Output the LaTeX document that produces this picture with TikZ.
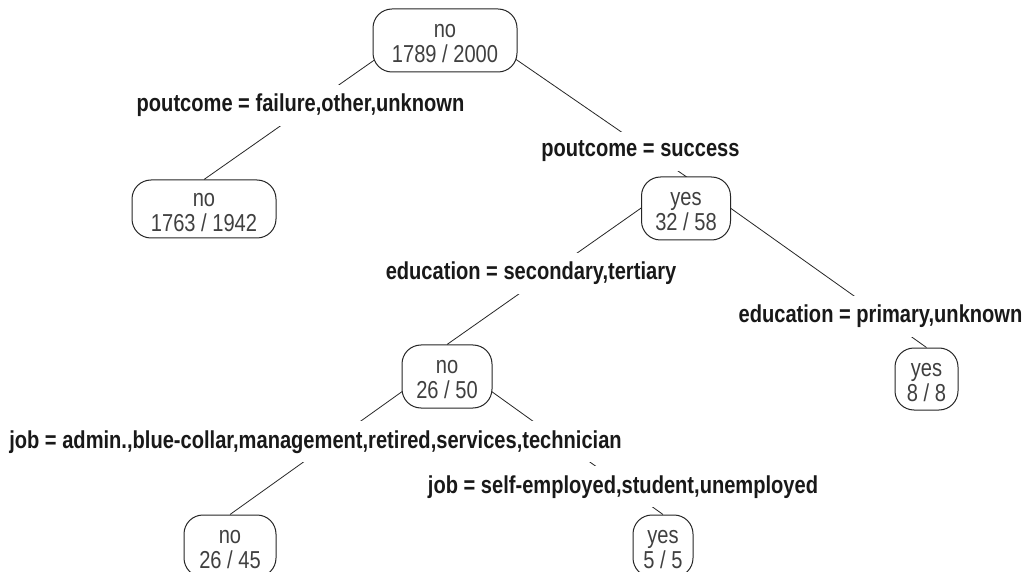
\documentclass[tikz,border=0pt]{standalone}
\usepackage{fontspec}
\setmainfont{Liberation Sans}
\usepackage{graphicx}
\usetikzlibrary{backgrounds}
\newcommand{\sq}[1]{\scalebox{0.82}[1]{#1}}
\newcommand{\nt}[2]{\rule{0pt}{20pt}\sq{#1}\\\sq{#2}}
\begin{document}
\begin{tikzpicture}[x=1pt,y=-1pt,
  box/.style={draw=black!85, line width=1pt, rounded corners=19pt, fill=white, align=center,
    text=black!75, font=\fontsize{24.5}{25}\selectfont, inner sep=0pt},
  lab/.style={fill=white, inner xsep=3pt, inner ysep=9pt, anchor=base, text=black!90,
    font=\fontsize{24.5}{25}\selectfont\bfseries},
  edge/.style={draw=black!85, line width=0.8pt}]
\useasboundingbox (0,0) rectangle (1029,572);
\clip (0,0) rectangle (1029,572);
% tree nodes
\node[box, minimum width=144pt, minimum height=63pt] (root) at (445,40.5) {\nt{no}{1789 / 2000}};
\node[box, minimum width=144pt, minimum height=58pt] (c1) at (204,209) {\nt{no}{1763 / 1942}};
\node[box, minimum width=89pt, minimum height=63pt] (n2) at (686,208.5) {\nt{yes}{32 / 58}};
\node[box, minimum width=90pt, minimum height=63pt] (n3) at (447,376.5) {\nt{no}{26 / 50}};
\node[box, minimum width=63pt, minimum height=62pt] (n4) at (926.5,379) {\nt{yes}{8 / 8}};
\node[box, minimum width=92pt, minimum height=62pt] (n5) at (230,546) {\nt{no}{26 / 45}};
\node[box, minimum width=60pt, minimum height=62pt] (n6) at (663,546) {\nt{yes}{5 / 5}};
% split labels
\node[lab] (l1) at (300.5,112) {\sq{poutcome = failure,other,unknown}};
\node[lab] (l2) at (640.5,157) {\sq{poutcome = success}};
\node[lab] (l3) at (531,280) {\sq{education = secondary,tertiary}};
\node[lab] (l4) at (880.5,323) {\sq{education = primary,unknown}};
\node[lab] (l5) at (315.5,448) {\sq{job = admin.,blue-collar,management,retired,services,technician}};
\node[lab] (l6) at (623,493) {\sq{job = self-employed,student,unemployed}};
% branches
\begin{scope}[on background layer]
\fill[white] (0,0) rectangle (1029,572);
\draw[edge] ([yshift=-2pt]root.north) -- (c1.north);
\draw[edge] ([yshift=-2pt]root.north) -- (n2.north);
\draw[edge] (n2.north) -- (n3.north);
\draw[edge] (n2.north) -- (n4.north);
\draw[edge] ([yshift=-15pt]n3.north) -- (n5.north);
\draw[edge] ([yshift=-15pt]n3.north) -- (n6.north);
\end{scope}
\end{tikzpicture}
\end{document}
